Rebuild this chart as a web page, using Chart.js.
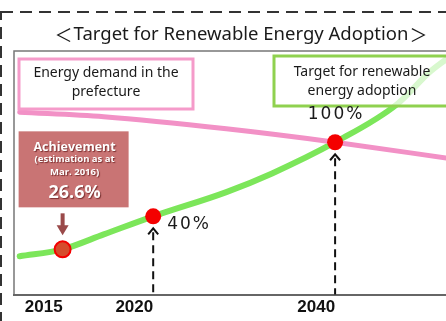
<!DOCTYPE html>
<html>
<head>
<meta charset="utf-8">
<script src="https://cdn.jsdelivr.net/npm/chart.js@4.4.1/dist/chart.umd.min.js"></script>
<style>
  html, body { margin: 0; padding: 0; background: #fff; }
  #wrap { position: relative; width: 446px; height: 321px; }
</style>
</head>
<body>
<div id="wrap"><canvas id="myChart" width="446" height="321"></canvas></div>
<script>
// Fiscal years; the time axis is log-compressed counted from this year
const YEAR_ORIGIN = 2006;

// Energy demand in the prefecture (as % of renewables needed, 100% in 2040)
const demandYears = [2013.3, 2017, 2026, 2040, 2065];
const demandValues = [145, 137, 118, 100, 82];

// Renewable energy adoption (%)
const targetYears = [2013.3, 2015, 2017, 2020, 2026, 2031, 2040, 2052, 2060, 2065];
const targetValues = [24.4, 26.6, 32, 40, 54, 68, 100, 160, 239, 284];

// Milestones on the adoption curve
const milestoneYears = [2015, 2020, 2040];
const milestoneValues = [26.6, 40, 100];

// x-axis ticks
const tickYears = [2015, 2020, 2040];
const tickLabels = ['2015', '2020', '2040'];

const PINK = '#f291c6';
const GREEN = '#7ce65a';
const BOX_PINK = '#f59bca';
const BOX_GREEN = '#8fd14f';

const toPoints = (xs, ys) => xs.map((x, i) => ({ x: x - YEAR_ORIGIN, y: ys[i] }));

function boxPath(ctx, x, y, w, h) {
    ctx.beginPath();
    ctx.rect(x, y, w, h);
}

const decorations = {
    id: 'decorations',
    beforeDraw(chart) {
        const { ctx, chartArea: a } = chart;
        ctx.save();
        // dashed outer frame
        ctx.strokeStyle = '#333';
        ctx.lineWidth = 2;
        ctx.setLineDash([12, 7]);
        ctx.strokeRect(1, 12, 480, 360);
        ctx.setLineDash([]);

        // title, with full-width brackets
        const title = 'Target for Renewable Energy Adoption';
        ctx.fillStyle = '#1a1a1a';
        ctx.textBaseline = 'middle';
        ctx.textAlign = 'center';
        ctx.font = '18.5px "Noto Sans", sans-serif';
        const tw = ctx.measureText(title).width;
        ctx.fillText(title, 241, 35);
        ctx.font = '18px "Noto Sans CJK JP", sans-serif';
        ctx.textAlign = 'right';
        ctx.fillText('＜', 241 - tw / 2 - 1, 35);
        ctx.textAlign = 'left';
        ctx.fillText('＞', 241 + tw / 2 + 1, 35);

        // plot frame (top + left)
        ctx.strokeStyle = '#777';
        ctx.lineWidth = 1.5;
        ctx.beginPath();
        ctx.moveTo(a.right + 5, a.top);
        ctx.lineTo(a.left, a.top);
        ctx.lineTo(a.left, a.bottom);
        ctx.stroke();
        ctx.restore();
    },
    afterDatasetsDraw(chart) {
        const { ctx, chartArea: a } = chart;
        const x = chart.scales.x, y = chart.scales.y;
        const px = milestoneYears.map(v => x.getPixelForValue(v - YEAR_ORIGIN));
        const py = milestoneValues.map(v => y.getPixelForValue(v));
        ctx.save();

        // legend boxes
        ctx.lineWidth = 3;
        ctx.strokeStyle = BOX_PINK;
        ctx.fillStyle = '#fff';
        boxPath(ctx, 19, 59, 174, 50);
        ctx.fill();
        ctx.stroke();
        ctx.strokeStyle = BOX_GREEN;
        ctx.fillStyle = 'rgba(255,255,255,0.7)';
        boxPath(ctx, 274, 56, 200, 50);
        ctx.fill();
        ctx.stroke();

        ctx.fillStyle = '#1a1a1a';
        ctx.font = '14px "Noto Sans", sans-serif';
        ctx.textAlign = 'center';
        ctx.textBaseline = 'middle';
        ctx.fillText('Energy demand in the', 106, 73);
        ctx.fillText('prefecture', 106, 92);
        ctx.fillText('Target for renewable', 362, 72);
        ctx.fillText('energy adoption', 362, 91);

        // achievement callout
        const bx = px[0] - 44, by = py[0] - 118;
        ctx.fillStyle = '#c97474';
        ctx.fillRect(bx, by, 110, 76);
        ctx.shadowColor = 'rgba(90,20,20,0.7)';
        ctx.shadowOffsetX = 1;
        ctx.shadowOffsetY = 1;
        ctx.shadowBlur = 1;
        ctx.fillStyle = '#fff';
        ctx.font = 'bold 12.5px "Open Sans", sans-serif';
        ctx.fillText('Achievement', bx + 56, by + 16);
        ctx.font = 'bold 9.5px "Open Sans", sans-serif';
        ctx.fillText('(estimation as at', bx + 56, by + 28);
        ctx.fillText('Mar. 2016)', bx + 56, by + 41);
        ctx.font = 'bold 18px "Open Sans", sans-serif';
        ctx.fillText(milestoneValues[0] + '%', bx + 56, by + 62);
        ctx.shadowColor = 'transparent';

        // small down arrow to the achievement point
        ctx.fillStyle = '#9a4a4a';
        ctx.fillRect(px[0] - 2, py[0] - 36, 4, 13);
        ctx.beginPath();
        ctx.moveTo(px[0] - 6, py[0] - 24);
        ctx.lineTo(px[0] + 6, py[0] - 24);
        ctx.lineTo(px[0], py[0] - 14);
        ctx.closePath();
        ctx.fill();

        // dashed arrows up to the targets
        ctx.strokeStyle = '#111';
        ctx.lineWidth = 2;
        for (let i = 1; i < px.length; i++) {
            const tip = py[i] + 12;
            ctx.setLineDash([8, 5]);
            ctx.beginPath();
            ctx.moveTo(px[i], tip + 4);
            ctx.lineTo(px[i], a.bottom);
            ctx.stroke();
            ctx.setLineDash([]);
            ctx.beginPath();
            ctx.moveTo(px[i] - 5, tip + 6);
            ctx.lineTo(px[i], tip);
            ctx.lineTo(px[i] + 5, tip + 6);
            ctx.stroke();
        }

        // target value labels
        ctx.fillStyle = '#1a1a1a';
        ctx.font = '17px "DejaVu Sans", sans-serif';
        ctx.letterSpacing = '2px';
        ctx.textAlign = 'left';
        ctx.fillText(milestoneValues[1] + '%', px[1] + 14, py[1] + 8);
        ctx.textAlign = 'center';
        ctx.fillText(milestoneValues[2] + '%', px[2] + 1, py[2] - 28);
        ctx.restore();
    }
};

const ctx = document.getElementById('myChart');

const chart = new Chart(ctx, {
    type: 'scatter',
    data: {
        datasets: [{
            label: 'Milestones',
            data: toPoints(milestoneYears, milestoneValues),
            pointRadius: 8,
            pointBackgroundColor: ['#d64c2c', '#f40000', '#f40000'],
            pointBorderColor: '#f40000',
            pointBorderWidth: [2, 0, 0],
            showLine: false
        }, {
            label: 'Energy demand',
            data: toPoints(demandYears, demandValues),
            borderColor: PINK,
            borderWidth: 5,
            borderCapStyle: 'round',
            pointRadius: 0,
            showLine: true,
            cubicInterpolationMode: 'monotone'
        }, {
            label: 'Renewable target',
            data: toPoints(targetYears, targetValues),
            borderColor: GREEN,
            borderWidth: 6,
            borderCapStyle: 'round',
            pointRadius: 0,
            showLine: true,
            cubicInterpolationMode: 'monotone'
        }]
    },
    options: {
        responsive: false,
        animation: false,
        layout: { autoPadding: false, padding: { left: 14, right: 0, top: 51, bottom: 0 } },
        plugins: { legend: { display: false }, tooltip: { enabled: false } },
        scales: {
            x: {
                type: 'logarithmic',
                min: 2013.1 - YEAR_ORIGIN,
                max: 2064.4 - YEAR_ORIGIN,
                grid: { display: false, drawTicks: false },
                border: { display: true, color: '#666', width: 2 },
                afterBuildTicks: axis => {
                    axis.ticks = tickYears.map(v => ({ value: v - YEAR_ORIGIN }));
                },
                afterFit: axis => {
                    axis.paddingLeft = 0;
                    axis.paddingRight = 0;
                },
                ticks: {
                    autoSkip: false,
                    maxRotation: 0,
                    align: 'end',
                    padding: 3,
                    color: '#111',
                    font: { family: '"Liberation Sans", Arial, sans-serif', size: 17, weight: 'bold' },
                    callback: (v, i) => tickLabels[i]
                }
            },
            y: {
                type: 'logarithmic',
                display: false,
                min: 15.2,
                max: 309
            }
        }
    },
    plugins: [decorations]
});
</script>
</body>
</html>
